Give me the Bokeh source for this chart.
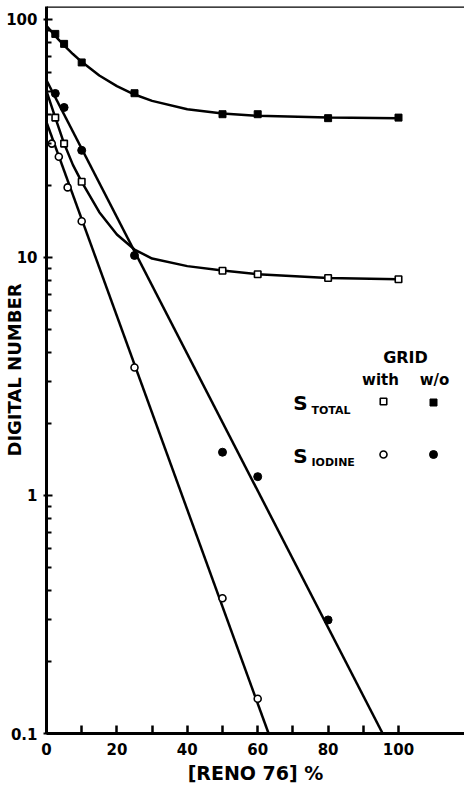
import math
from bokeh.plotting import figure
from bokeh.models import Range1d, FixedTicker, CustomJSTickFormatter, Label, Span
from bokeh.embed import file_html
from bokeh.resources import INLINE

# ---------------- data ----------------
# S_TOTAL, grid w/o (filled squares)
x_total_wo = [2.5, 5, 10, 25, 50, 60, 80, 100]
y_total_wo = [87.0, 79.0, 66.0, 49.0, 40.0, 40.0, 38.5, 38.7]
# S_TOTAL, with grid (open squares)
x_total_with = [2.5, 5, 10, 50, 60, 80, 100]
y_total_with = [38.7, 30.1, 20.8, 8.8, 8.5, 8.2, 8.1]
# S_IODINE, with grid (open circles)
x_iodine_with = [1.5, 3.5, 6, 10, 25, 50, 60]
y_iodine_with = [30.1, 26.5, 19.7, 14.2, 3.45, 0.37, 0.14]
# S_IODINE, grid w/o (filled circles)
x_iodine_wo = [2.5, 5, 10, 25, 50, 60, 80]
y_iodine_wo = [48.9, 42.7, 28.2, 10.2, 1.52, 1.2, 0.30]

# drawn curves
curve_x = [0, 2.5, 5, 7.5, 10, 15, 20, 25, 30, 40, 50, 60, 80, 100]
curve_total_wo = [94, 85.2, 77.8, 71.6, 66.4, 58.2, 52.5, 48.4, 45.5, 42.0, 40.3, 39.4, 38.7, 38.5]
curve_total_with = [50, 38.7, 30.1, 24.5, 20.8, 15.5, 12.5, 10.8, 9.9, 9.2, 8.82, 8.5, 8.2, 8.1]
fit_iodine_wo_x = [0, 95.5]
fit_iodine_wo_y = [55.5, 0.1]
fit_iodine_with_x = [0, 63.1]
fit_iodine_with_y = [37.0, 0.1]

x_ticks = [0, 20, 40, 60, 80, 100]
x_minor_ticks = [10, 30, 50, 70, 90]
y_ticks = [0.1, 1, 10, 100]
y_minor_ticks = [0.2, 0.3, 0.4, 0.5, 0.6, 0.7, 0.8, 0.9,
                 2, 3, 4, 5, 6, 7, 8, 9,
                 20, 30, 40, 50, 60, 70, 80, 90]

x_title = "[RENO 76] %"
y_title = "DIGITAL NUMBER"

# ---------------- layout ----------------
W, H = 464, 794
L, T, B = 46, 6, 733
X_MIN, X_MAX = 0, 118.75
Y_MIN, Y_MAX = 0.1, 113.4
FONT = "DejaVu Sans"

p = figure(width=W, height=H, output_backend="svg", toolbar_location=None,
           y_axis_type="log",
           x_range=Range1d(X_MIN, X_MAX), y_range=Range1d(Y_MIN, Y_MAX),
           min_border_left=L, min_border_right=0, min_border_top=T,
           min_border_bottom=H - B)
p.outline_line_color = None
p.grid.visible = False
p.background_fill_color = "white"
p.border_fill_color = "white"

# axes
xa = p.xaxis[0]
xa.ticker = FixedTicker(ticks=x_ticks, minor_ticks=x_minor_ticks)
xa.axis_line_width = 3
xa.major_tick_in = 8
xa.major_tick_out = 0
xa.minor_tick_in = 8
xa.minor_tick_out = 0
xa.major_tick_line_width = 2.5
xa.minor_tick_line_width = 2.5
xa.major_label_text_font = FONT
xa.major_label_text_font_style = "bold"
xa.major_label_text_font_size = "15px"
xa.major_label_text_color = "black"
xa.major_label_standoff = 9
xa.axis_label = x_title
xa.axis_label_text_font = FONT
xa.axis_label_text_font_style = "bold"
xa.axis_label_text_font_size = "19px"
xa.axis_label_text_color = "black"
xa.axis_label_standoff = 4

ya = p.yaxis[0]
ya.ticker = FixedTicker(ticks=y_ticks, minor_ticks=y_minor_ticks)
ya.formatter = CustomJSTickFormatter(code="return tick >= 1 ? tick.toFixed(0) : tick.toFixed(1);")
ya.axis_line_width = 3
ya.major_tick_in = 6
ya.major_tick_out = 3
ya.minor_tick_in = 5
ya.minor_tick_out = 0
ya.major_tick_line_width = 2
ya.minor_tick_line_width = 2
ya.major_label_text_font = FONT
ya.major_label_text_font_style = "bold"
ya.major_label_text_font_size = "15px"
ya.major_label_text_color = "black"
ya.major_label_standoff = 6
ya.axis_label = y_title
ya.axis_label_text_font = FONT
ya.axis_label_text_font_style = "bold"
ya.axis_label_text_font_size = "18px"
ya.axis_label_text_color = "black"
ya.axis_label_standoff = -22

# top frame line
p.add_layout(Span(location=Y_MAX, dimension="width", line_color="black", line_width=2.5))

# curves
p.line(curve_x, curve_total_wo, line_color="black", line_width=2.5)
p.line(curve_x, curve_total_with, line_color="black", line_width=2.5)
p.line(fit_iodine_wo_x, fit_iodine_wo_y, line_color="black", line_width=2.5)
p.line(fit_iodine_with_x, fit_iodine_with_y, line_color="black", line_width=2.5)

# markers
p.scatter(x_total_wo, y_total_wo, marker="square", size=7, fill_color="black", line_color="black")
p.scatter(x_total_with, y_total_with, marker="square", size=6.5, fill_color="white",
          line_color="black", line_width=1.6)
p.scatter(x_iodine_with, y_iodine_with, marker="circle", size=7, fill_color="white",
          line_color="black", line_width=1.6)
p.scatter(x_iodine_wo, y_iodine_wo, marker="circle", size=8, fill_color="black", line_color="black")


def dx(px):
    return X_MIN + (px - L) / (W - L) * (X_MAX - X_MIN)


def dy(py):
    lo, hi = math.log10(Y_MIN), math.log10(Y_MAX)
    return 10 ** (lo + (B - py) / (B - T) * (hi - lo))


def lab(text, px, py, size, align="center", baseline="middle", style="bold", font=FONT):
    p.add_layout(Label(x=px - L, y=B - py, x_units="screen", y_units="screen", text=text,
                       text_align=align, text_baseline=baseline, text_font=font,
                       text_font_style=style, text_font_size=f"{size}px",
                       text_color="black"))


# legend
lab("GRID", 405, 357, 16)
lab("with", 380, 379, 15)
lab("w/o", 434, 379, 15)
lab("S", 300, 402, 20)
lab("TOTAL", 311, 410, 11, align="left")
lab("S", 300, 455, 20)
lab("IODINE", 311, 462, 11, align="left")
p.scatter([dx(383)], [dy(401)], marker="square", size=6.5, fill_color="white", line_color="black", line_width=1.6)
p.scatter([dx(433)], [dy(402)], marker="square", size=7, fill_color="black", line_color="black")
p.scatter([dx(383)], [dy(454)], marker="circle", size=7, fill_color="white", line_color="black", line_width=1.6)
p.scatter([dx(433)], [dy(454)], marker="circle", size=8, fill_color="black", line_color="black")

open("out.html", "w").write(file_html(p, INLINE))
